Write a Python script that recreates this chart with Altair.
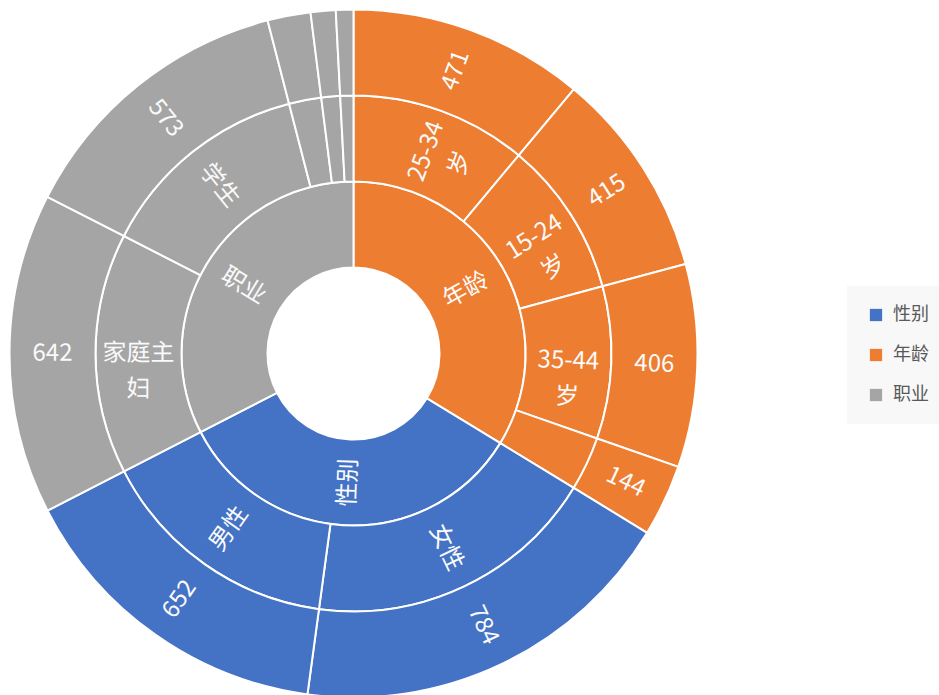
import altair as alt
import pandas as pd

# ---- data ----
group_order = ["年龄", "性别", "职业"]          # order around the ring, clockwise from 12 o'clock
legend_order = ["性别", "年龄", "职业"]
legend_colors = ["#4472C4", "#ED7D31", "#A5A5A5"]

leaf_group = ["年龄", "年龄", "年龄", "年龄", "性别", "性别",
              "职业", "职业", "职业", "职业", "职业"]
leaf_names = ["25-34岁", "15-24岁", "35-44岁", "45岁及以上", "女性", "男性",
              "家庭主妇", "学生", "职员", "退休", "其他"]
leaf_values = [471, 415, 406, 144, 784, 652, 642, 573, 86, 50, 35]
mid_labels = ["25-34\n岁", "15-24\n岁", "35-44\n岁", "", "女性", "男性",
              "家庭主\n妇", "学生", "", "", ""]
show_value = [True, True, True, True, True, True, True, True, False, False, False]

# ---- derived tables ----
total = float(sum(leaf_values))


def rot(mid):
    deg = mid / total * 360.0
    a = deg - 90.0 if deg <= 180.0 else deg - 270.0
    return a % 360.0


leaf = pd.DataFrame({"group": leaf_group, "name": leaf_names,
                     "value": leaf_values, "mid_label": mid_labels,
                     "show": show_value})
leaf["end"] = leaf["value"].cumsum()
leaf["start"] = leaf["end"] - leaf["value"]
leaf["mid"] = (leaf["start"] + leaf["end"]) / 2.0
leaf["rot"] = leaf["mid"].apply(rot)
leaf["value_label"] = [str(v) if s else "" for v, s in zip(leaf["value"], leaf["show"])]

inner = leaf.groupby("group", sort=False)["value"].sum().reindex(group_order).reset_index()
inner["end"] = inner["value"].cumsum()
inner["start"] = inner["end"] - inner["value"]
inner["mid"] = (inner["start"] + inner["end"]) / 2.0
inner["rot"] = inner["mid"].apply(rot)

# ---- chart ----
CX, CY = 353.5, 353.5
R0, R1, R2, R3 = 86, 172, 258, 344
FONT = "Noto Sans CJK SC"

theta_scale = alt.Scale(domain=[0, total], nice=False, zero=True)
color = alt.Color(
    "group:N",
    scale=alt.Scale(domain=legend_order, range=legend_colors),
    legend=alt.Legend(
        title=None, orient="none", legendX=847, legendY=286,
        fillColor="#F8F8F8", padding=20, symbolType="square",
        symbolSize=150, symbolStrokeWidth=0, labelFontSize=18,
        labelFont=FONT, labelColor="#595959", labelOffset=8,
        rowPadding=22, labelLimit=200,
    ),
)


def arcs(df, r_in, r_out):
    return alt.Chart(df).mark_arc(
        radius=r_out, radius2=r_in, stroke="white", strokeWidth=2
    ).encode(
        theta=alt.Theta("start:Q", scale=theta_scale),
        theta2="end:Q",
        color=color,
        x=alt.value(CX), y=alt.value(CY),
    )


def labels(df, field, r):
    return alt.Chart(df).mark_text(
        radius=r, color="#FAFAFA", font=FONT, fontSize=24,
        lineBreak="\n", lineHeight=36, align="center", baseline="middle",
    ).encode(
        theta=alt.Theta("mid:Q", scale=theta_scale),
        angle=alt.Angle("rot:Q", scale=None),
        text=alt.Text(f"{field}:N"),
        x=alt.value(CX), y=alt.value(CY),
    )


chart = alt.layer(
    arcs(inner, R0, R1),
    arcs(leaf, R1, R2),
    arcs(leaf, R2, R3),
    labels(inner, "group", (R0 + R1) / 2),
    labels(leaf, "mid_label", (R1 + R2) / 2),
    labels(leaf, "value_label", (R2 + R3) / 2),
).properties(
    width=939, height=695, padding=0,
    autosize=alt.AutoSizeParams(type="none"),
).configure_view(stroke=None, strokeWidth=0)

chart.save("out.html", embed_options={"renderer": "svg", "actions": False})
